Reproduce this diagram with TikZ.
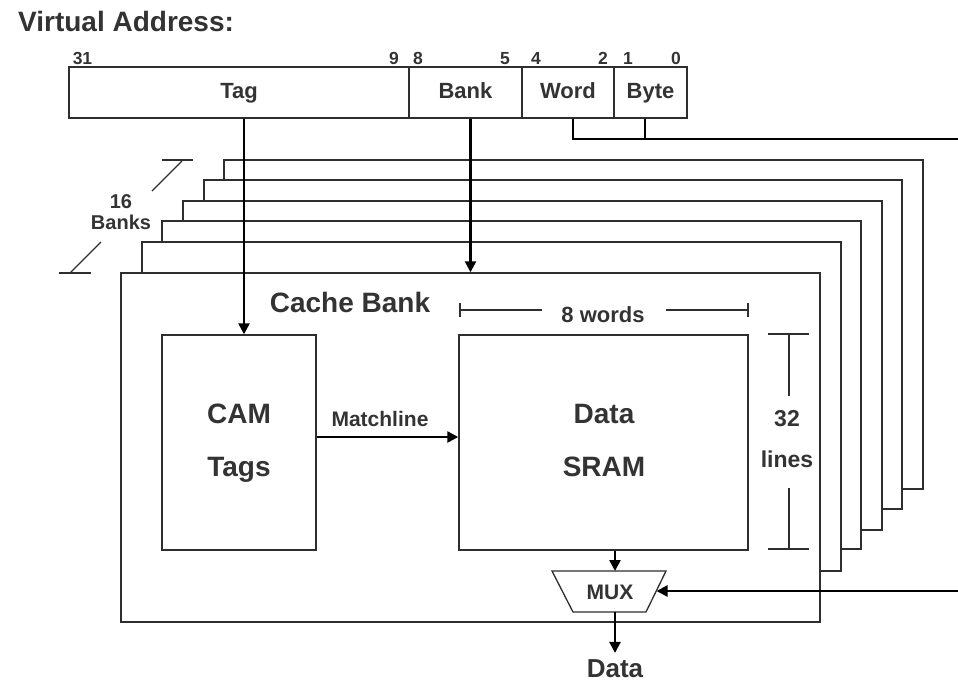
\documentclass[tikz,border=0pt]{standalone}
\usepackage{fontspec}
\setmainfont{Liberation Sans}
\usetikzlibrary{arrows.meta}
\definecolor{ink}{HTML}{333333}
\definecolor{edge}{HTML}{2E2E2E}
\newcommand{\fsz}[1]{\bfseries\fontsize{#1}{#1}\selectfont}
\tikzset{
  box/.style={draw=edge, line width=1.4pt, fill=white, inner sep=0pt},
  field/.style={box, minimum height=51pt, text=ink, font=\fsz{22},
                text height=16pt, text depth=4pt},
  thinline/.style={draw=edge, line width=1.3pt},
  wire/.style={draw=black, line width=2.4pt},
  arr/.style={wire, -{Triangle[length=11pt,width=11pt]}},
  txt/.style={text=ink, inner sep=0pt, anchor=base}
}
\begin{document}
\begin{tikzpicture}[x=1pt, y=-1pt]
\useasboundingbox (0,0) rectangle (958,681);

% heading
\node[txt, anchor=base west, font=\fsz{28}] (head) at (18,31) {Virtual Address:};

% address fields
\node[field, minimum width=340pt] (tag)  at (239,92.5)   {Tag};
\node[field, minimum width=113pt] (bank) at (465.5,92.5) {Bank};
\node[field, minimum width=92pt]  (word) at (568,92.5)   {Word};
\node[field, minimum width=73pt]  (byte) at (650.5,92.5) {Byte};

% bit positions
\foreach \x/\b [count=\i] in {82.5/31, 394/9, 418/8, 505/5, 536/4, 603/2, 628/1, 676/0}
  \node[txt, font=\fsz{17.5}] (bit\i) at (\x,64) {\b};

% stacked banks behind the front one (back to front)
\foreach \l/\t/\r/\b in {224/160/923/489, 204/180/902/509, 183/201/882/530,
                         162/221/861/549, 142/242/841/571}
  \draw[box] (\l,\t) rectangle (\r,\b);

% front cache bank
\node[box, minimum width=699pt, minimum height=349pt] (front) at (470.5,447.5) {};
\node[txt, font=\fsz{28}] (title) at (350,312) {Cache Bank};

% CAM and data array
\node[box, minimum width=154pt, minimum height=215pt] (cam)  at (239,442.5)   {};
\node[box, minimum width=289pt, minimum height=215pt] (sram) at (603.5,442.5) {};
\node[txt, font=\fsz{28}] (camA) at (239,423) {CAM};
\node[txt, font=\fsz{28}] (camB) at (239,476) {Tags};
\node[txt, font=\fsz{28}] (sramA) at (604,423) {Data};
\node[txt, font=\fsz{28}] (sramB) at (604,476) {SRAM};

% "16 Banks" dimension
\draw[thinline] (162,160) -- (193,160);
\draw[thinline] (182,161) -- (152,191);
\draw[thinline] (101,242) -- (70,273);
\draw[thinline] (59,273) -- (91,273);
\node[txt, font=\fsz{20}] (nb) at (121,208) {16};
\node[txt, font=\fsz{20}] (nbB) at (121,229) {Banks};

% "8 words" dimension
\draw[thinline] (460,303) -- (460,317);
\draw[thinline] (460,310) -- (542,310);
\draw[thinline] (666,310) -- (748,310);
\draw[thinline] (748,303) -- (748,317);
\node[txt, font=\fsz{22}] (words) at (603,322) {8 words};

% "32 lines" dimension
\draw[thinline] (768,334) -- (809,334);
\draw[thinline] (789,334) -- (789,396);
\draw[thinline] (789,488) -- (789,549);
\draw[thinline] (768,549) -- (809,549);
\node[txt, font=\fsz{23}] (linesA) at (787,426) {32};
\node[txt, font=\fsz{23}] (linesB) at (787,467) {lines};

% multiplexer
\coordinate (mtl) at (552,571);
\coordinate (mtr) at (666,571);
\coordinate (mbr) at (646,612);
\coordinate (mbl) at (573,612);
\draw[thinline, fill=white] (mtl) -- (mtr) -- (mbr) -- (mbl) -- cycle;
\node[txt, font=\fsz{21}] (mux) at (610,599) {MUX};
\coordinate (muxin)  at (615,571);
\coordinate (muxout) at (615,612);
\coordinate (muxsel) at (656.5,591);
\node[txt, font=\fsz{26}] (dataout) at (615,677) {Data};

% select wires from the word and byte offset
\coordinate (selA) at (958,139);
\coordinate (selB) at (958,591);
\draw[wire] ([xshift=5pt]word.south) |- (selA);
\draw[wire] ([xshift=-5.5pt]byte.south) -- ([xshift=-5.5pt]byte.south |- selA);

% arrows
\draw[arr] ([xshift=5pt]tag.south) -- ([xshift=5pt]tag.south |- cam.north);
\draw[arr] (bank.south -| front.north) -- (front.north);
\draw[arr] ([yshift=5.5pt]cam.east) -- ([yshift=5.5pt]sram.west);
\node[txt, font=\fsz{21}] (match) at (380,426) {Matchline};
\draw[arr] (sram.south -| muxin) -- (muxin);
\draw[arr] (muxout) -- ([yshift=6pt]dataout.north);
\draw[arr] (selB) -- (muxsel);
\end{tikzpicture}
\end{document}
